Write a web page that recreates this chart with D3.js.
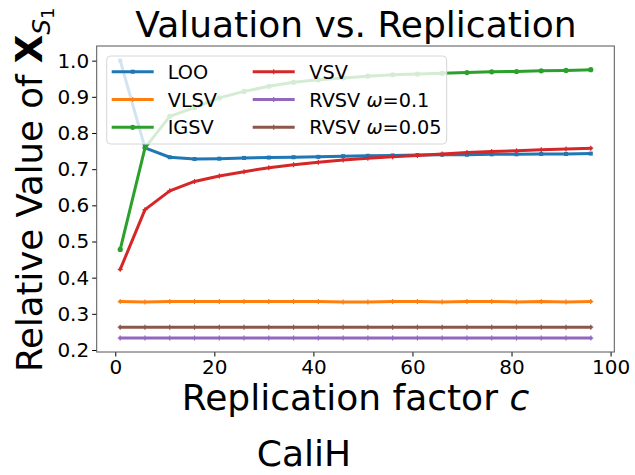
<!DOCTYPE html>
<html>
<head>
<meta charset="utf-8">
<script src="https://cdn.jsdelivr.net/npm/d3@7"></script>
<style>
  body { margin: 0; background: #fff; }
  svg { display: block; font-family: "DejaVu Sans", sans-serif; }
</style>
</head>
<body>
<div id="chart"></div>
<script>
// Replication factors
const cValues = [1, 6, 11, 16, 21, 26, 31, 36, 41, 46, 51, 56, 61, 66, 71, 76, 81, 86, 91, 96];

// Series values
const loo = [1.000, 0.759, 0.733, 0.728, 0.729, 0.731, 0.732, 0.733, 0.734, 0.736, 0.737, 0.738, 0.739, 0.740, 0.740, 0.741, 0.741, 0.742, 0.742, 0.743];
const vlsv = [0.334, 0.333, 0.334, 0.334, 0.334, 0.334, 0.334, 0.334, 0.334, 0.333, 0.333, 0.334, 0.334, 0.333, 0.334, 0.334, 0.333, 0.334, 0.333, 0.334];
const igsv = [0.478, 0.759, 0.846, 0.870, 0.897, 0.915, 0.929, 0.940, 0.947, 0.952, 0.957, 0.961, 0.963, 0.965, 0.967, 0.969, 0.970, 0.972, 0.973, 0.975];
const vsv = [0.423, 0.588, 0.640, 0.666, 0.681, 0.693, 0.704, 0.712, 0.719, 0.725, 0.730, 0.734, 0.738, 0.742, 0.746, 0.749, 0.751, 0.754, 0.756, 0.758];
const rvsv01 = [0.233, 0.233, 0.233, 0.233, 0.233, 0.233, 0.233, 0.233, 0.233, 0.233, 0.233, 0.233, 0.233, 0.233, 0.233, 0.233, 0.233, 0.233, 0.233, 0.233];
const rvsv005 = [0.263, 0.263, 0.263, 0.263, 0.263, 0.263, 0.263, 0.263, 0.263, 0.263, 0.263, 0.263, 0.263, 0.263, 0.263, 0.263, 0.263, 0.263, 0.263, 0.263];

const xTicks = [0, 20, 40, 60, 80, 100];
const yTicks = [0.2, 0.3, 0.4, 0.5, 0.6, 0.7, 0.8, 0.9, 1.0];

const series = [
    {name: 'LOO', values: loo, color: '#1f77b4', marker: 'square'},
    {name: 'VLSV', values: vlsv, color: '#ff7f0e', marker: 'plus'},
    {name: 'IGSV', values: igsv, color: '#2ca02c', marker: 'circle'},
    {name: 'VSV', values: vsv, color: '#d62728', marker: 'plus'},
    {name: 'RVSV', omega: '0.1', values: rvsv01, color: '#9467bd', marker: 'plus'},
    {name: 'RVSV', omega: '0.05', values: rvsv005, color: '#8c564b', marker: 'plus'},
];

const W = 635, H = 475;
const plot = {left: 96.7, right: 614.3, top: 46, bottom: 352};

const svg = d3.select('#chart').append('svg')
    .attr('width', W)
    .attr('height', H);

const x = d3.scaleLinear().domain([-3.75, 100.75]).range([plot.left, plot.right]);
const y = d3.scaleLinear().domain([0.1945, 1.0405]).range([plot.bottom, plot.top]);

// Axes
svg.append('g')
    .attr('transform', `translate(0,${plot.bottom})`)
    .call(d3.axisBottom(x).tickValues(xTicks).tickSize(4.5).tickPadding(3).tickFormat(d3.format('d')))
    .call(g => g.select('.domain').remove())
    .call(g => g.selectAll('text').attr('font-size', 20).attr('font-family', '"DejaVu Sans"').attr('fill', '#000'))
    .call(g => g.selectAll('line').attr('stroke', '#000').attr('stroke-width', 1));

svg.append('g')
    .attr('transform', `translate(${plot.left},0)`)
    .call(d3.axisLeft(y).tickValues(yTicks).tickSize(4.5).tickPadding(3).tickFormat(d3.format('.1f')))
    .call(g => g.select('.domain').remove())
    .call(g => g.selectAll('text').attr('font-size', 20).attr('font-family', '"DejaVu Sans"').attr('fill', '#000'))
    .call(g => g.selectAll('line').attr('stroke', '#000').attr('stroke-width', 1));

// Lines
const line = d3.line()
    .x((d, i) => x(cValues[i]))
    .y(d => y(d));

function drawMarker(g, type, color) {
    if (type === 'square') {
        g.append('rect').attr('x', -2).attr('y', -2).attr('width', 4).attr('height', 4).attr('fill', color);
    } else if (type === 'circle') {
        g.append('circle').attr('r', 2.6).attr('fill', color);
    } else {
        g.append('path').attr('d', 'M-2.5,0H2.5M0,-2.5V2.5').attr('stroke', color).attr('stroke-width', 1.2);
    }
}

const lineG = svg.append('g');
series.forEach(s => {
    lineG.append('path')
        .attr('d', line(s.values))
        .attr('fill', 'none')
        .attr('stroke', s.color)
        .attr('stroke-width', 3)
        .attr('stroke-linejoin', 'round')
        .attr('stroke-linecap', 'square');
    s.values.forEach((v, i) => {
        const m = lineG.append('g').attr('transform', `translate(${x(cValues[i])},${y(v)})`);
        drawMarker(m, s.marker, s.color);
    });
});

// Frame
svg.append('rect')
    .attr('x', plot.left)
    .attr('y', plot.top)
    .attr('width', plot.right - plot.left)
    .attr('height', plot.bottom - plot.top)
    .attr('fill', 'none')
    .attr('stroke', '#555')
    .attr('stroke-width', 1);

// Legend
const legend = svg.append('g');
legend.append('rect')
    .attr('x', 106.7).attr('y', 56)
    .attr('width', 340).attr('height', 88)
    .attr('rx', 4)
    .attr('fill', 'rgba(255,255,255,0.8)')
    .attr('stroke', '#d6d6d6')
    .attr('stroke-width', 1);

const rowY = [71.7, 99.5, 127.3];
const colX = [[111.7, 167.7], [252.7, 309.3]];
series.forEach((s, i) => {
    const col = Math.floor(i / 3), row = i % 3;
    const [hx, tx] = colX[col];
    const ly = rowY[row];
    legend.append('line')
        .attr('x1', hx).attr('x2', hx + 42)
        .attr('y1', ly).attr('y2', ly)
        .attr('stroke', s.color).attr('stroke-width', 3);
    drawMarker(legend.append('g').attr('transform', `translate(${hx + 21},${ly})`), s.marker, s.color);
    const t = legend.append('text')
        .attr('x', tx).attr('y', ly + 7)
        .attr('font-size', 19.3)
        .attr('fill', '#000');
    if (s.omega) {
        t.append('tspan').text(s.name + ' ');
        t.append('tspan').attr('font-style', 'italic').text('ω');
        t.append('tspan').text('=' + s.omega);
    } else {
        t.text(s.name);
    }
});

// Title
svg.append('text')
    .attr('x', 356).attr('y', 37)
    .attr('text-anchor', 'middle')
    .attr('font-size', 36)
    .text('Valuation vs. Replication');

// X label
const xl = svg.append('text')
    .attr('x', 355.5).attr('y', 410)
    .attr('text-anchor', 'middle')
    .attr('font-size', 36);
xl.append('tspan').text('Replication factor ');
xl.append('tspan').attr('font-style', 'italic').text('c');

// Y label
const yl = svg.append('text')
    .attr('transform', 'translate(42,372) rotate(-90)')
    .attr('text-anchor', 'start')
    .attr('font-size', 35.5);
yl.append('tspan').text('Relative Value of ');
yl.append('tspan').attr('font-weight', 'bold').attr('font-size', 37).text('X');
yl.append('tspan').attr('font-size', 25).attr('font-style', 'italic').attr('dy', 8).text('S');
yl.append('tspan').attr('font-size', 18).attr('dy', 4).text('1');

// Dataset caption
svg.append('text')
    .attr('x', 304).attr('y', 466)
    .attr('text-anchor', 'middle')
    .attr('font-size', 36)
    .text('CaliH');
</script>
</body>
</html>
